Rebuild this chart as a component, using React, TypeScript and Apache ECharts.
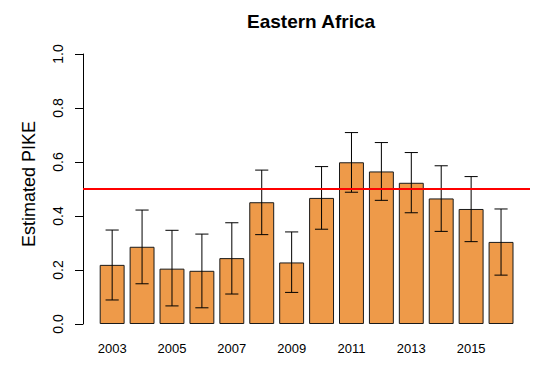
import React, { useEffect, useRef } from "react";
import * as echarts from "echarts";

const years = ["2003", "2004", "2005", "2006", "2007", "2008", "2009", "2010", "2011", "2012", "2013", "2014", "2015", "2016"];
const pike = [0.219, 0.286, 0.205, 0.197, 0.244, 0.451, 0.228, 0.467, 0.599, 0.565, 0.523, 0.465, 0.426, 0.304];
const lower = [0.089, 0.149, 0.067, 0.06, 0.111, 0.331, 0.117, 0.351, 0.488, 0.458, 0.412, 0.343, 0.305, 0.181];
const upper = [0.348, 0.422, 0.347, 0.333, 0.375, 0.57, 0.341, 0.583, 0.709, 0.672, 0.635, 0.586, 0.546, 0.426];
const threshold = 0.5;
const yTicks = [0, 0.2, 0.4, 0.6, 0.8, 1.0];

const FONT = "Liberation Sans, Arial, Helvetica, sans-serif";

export default function App() {
  const ref = useRef<HTMLDivElement>(null);
  useEffect(() => {
    if (!ref.current) return;
    const chart = echarts.init(ref.current, null, { renderer: "svg" });
    const errData = years.map((_, i) => [i, lower[i], upper[i]]);
    chart.setOption({
      animation: false,
      backgroundColor: "#fff",
      title: {
        text: "Eastern Africa",
        left: 242,
        top: 7,
        textStyle: { fontFamily: FONT, fontSize: 19, fontWeight: "bold", color: "#000" },
      },
      grid: [
        { left: 97.2, right: 31, top: 54, bottom: 41 },
        { left: 83, right: 17, top: 54, bottom: 41 },
      ],
      xAxis: [
        {
          type: "category",
          gridIndex: 0,
          data: years,
          axisLine: { show: false },
          axisTick: { show: false },
          axisLabel: { interval: 1, fontFamily: FONT, fontSize: 13, color: "#000", margin: 18 },
          splitLine: { show: false },
        },
        { type: "value", gridIndex: 1, min: 0, max: 1, show: false },
      ],
      yAxis: [
        { type: "value", gridIndex: 0, min: 0, max: 1, show: false, splitLine: { show: false } },
        {
          type: "value",
          gridIndex: 1,
          min: yTicks[0],
          max: yTicks[yTicks.length - 1],
          interval: 0.2,
          axisLine: { show: true, lineStyle: { color: "#000", width: 1 } },
          axisTick: { show: true, length: 8, lineStyle: { color: "#000", width: 1 } },
          axisLabel: {
            rotate: 90,
            margin: 18,
            fontFamily: FONT,
            fontSize: 14,
            color: "#000",
            formatter: (v: number) => v.toFixed(1),
          },
          splitLine: { show: false },
          name: "Estimated PIKE",
          nameLocation: "middle",
          nameGap: 45,
          nameRotate: 90,
          nameTextStyle: { fontFamily: FONT, fontSize: 18, color: "#000", padding: [0, 0, 0, 10] },
        },
      ],
      series: [
        {
          type: "bar",
          xAxisIndex: 0,
          yAxisIndex: 0,
          data: pike,
          barCategoryGap: "16.7%",
          itemStyle: { color: "#EE9A49", borderColor: "#1a1a1a", borderWidth: 1 },
          z: 2,
        },
        {
          type: "custom",
          xAxisIndex: 0,
          yAxisIndex: 0,
          data: errData,
          encode: { x: 0, y: [1, 2] },
          z: 3,
          renderItem: (params: any, api: any) => {
            const x = api.value(0);
            const lo = api.coord([x, api.value(1)]);
            const hi = api.coord([x, api.value(2)]);
            const half = api.size([1, 0])[0] * 0.22;
            const style = { stroke: "#000", lineWidth: 1 };
            return {
              type: "group",
              children: [
                { type: "line", shape: { x1: lo[0], y1: lo[1], x2: hi[0], y2: hi[1] }, style },
                { type: "line", shape: { x1: lo[0] - half, y1: lo[1], x2: lo[0] + half, y2: lo[1] }, style },
                { type: "line", shape: { x1: hi[0] - half, y1: hi[1], x2: hi[0] + half, y2: hi[1] }, style },
              ],
            };
          },
        },
        {
          type: "line",
          xAxisIndex: 1,
          yAxisIndex: 1,
          data: [
            [0, threshold],
            [1, threshold],
          ],
          symbol: "none",
          lineStyle: { color: "#ff0000", width: 2 },
          z: 4,
        },
      ],
    });
    return () => chart.dispose();
  }, []);
  return <div ref={ref} style={{ position: "absolute", left: 0, top: 0, width: 547, height: 365 }} />;
}
